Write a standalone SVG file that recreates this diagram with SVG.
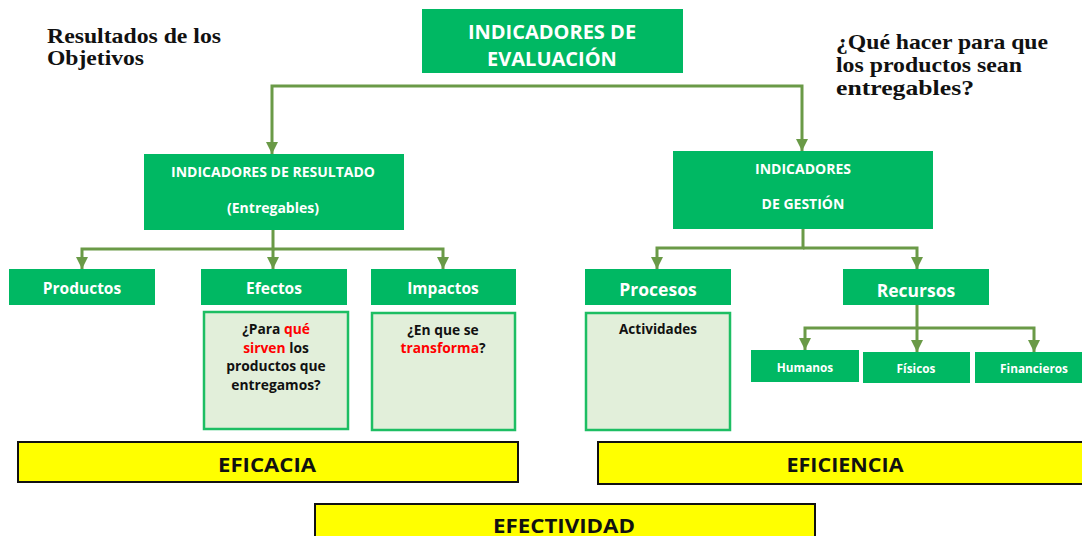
<svg xmlns="http://www.w3.org/2000/svg" width="1082" height="536" viewBox="0 0 1082 536">
<style>
.g{fill:#00B863;}
.lt{fill:#E2EFDA;stroke:#1DBE63;stroke-width:2.5;}
.y{fill:#FFFF00;stroke:#111;stroke-width:2;}
.w{fill:#fff;font-family:"Open Sans",sans-serif;font-weight:bold;text-anchor:middle;}
.b{fill:#111;font-family:"Open Sans",sans-serif;font-weight:bold;text-anchor:middle;}
.r{fill:#FF0000;}
.t{fill:#111;font-family:"Liberation Serif",serif;font-weight:bold;font-size:21px;}
.c{fill:none;stroke:#6A9A47;stroke-width:3;marker-end:url(#arr);}
</style>
<defs>
<marker id="arr" viewBox="0 0 12 12" refX="12" refY="6" markerWidth="12" markerHeight="12" markerUnits="userSpaceOnUse" orient="auto">
<path d="M0,0 L12,6 L0,12 z" fill="#6A9A47"/>
</marker>
</defs>
<g id="titles">
<text class="t" x="47" y="43" textLength="174" lengthAdjust="spacingAndGlyphs">Resultados de los</text>
<text class="t" x="47" y="65" textLength="97" lengthAdjust="spacingAndGlyphs">Objetivos</text>
<text class="t" x="836" y="49" textLength="212" lengthAdjust="spacingAndGlyphs">¿Qué hacer para que</text>
<text class="t" x="836" y="72" textLength="186" lengthAdjust="spacingAndGlyphs">los productos sean</text>
<text class="t" x="836" y="95" textLength="138" lengthAdjust="spacingAndGlyphs">entregables?</text>
</g>
<g id="connectors">
<path class="c" d="M552,86 H272 V154"/>
<path class="c" d="M552,86 H802 V151"/>
<path class="c" d="M273,230 V249 H82 V269"/>
<path class="c" d="M273,249 V269"/>
<path class="c" d="M273,249 H443 V269"/>
<path class="c" d="M803,229 V248 H657 V269"/>
<path class="c" d="M803,248 H917 V269"/>
<path class="c" d="M917,305 V328 H805 V350"/>
<path class="c" d="M917,328 V352"/>
<path class="c" d="M917,328 H1034 V352"/>
</g>
<g id="evaluacion">
<rect class="g" x="422" y="9" width="261" height="64"/>
<text class="w" x="552" y="39" font-size="20">INDICADORES DE</text>
<text class="w" x="552" y="66" font-size="20">EVALUACIÓN</text>
</g>
<g id="resultado">
<rect class="g" x="144" y="154" width="260" height="76"/>
<text class="w" x="273" y="177" font-size="14">INDICADORES DE RESULTADO</text>
<text class="w" x="273" y="213" font-size="14">(Entregables)</text>
</g>
<g id="gestion">
<rect class="g" x="673" y="151" width="260" height="78"/>
<text class="w" x="803" y="174" font-size="14">INDICADORES</text>
<text class="w" x="803" y="209" font-size="14">DE GESTIÓN</text>
</g>
<g id="productos">
<rect class="g" x="9" y="269" width="146" height="36"/>
<text class="w" x="82" y="294" font-size="15.5">Productos</text>
</g>
<g id="efectos">
<rect class="g" x="201" y="269" width="146" height="36"/>
<text class="w" x="274" y="294" font-size="15.5">Efectos</text>
</g>
<g id="impactos">
<rect class="g" x="371" y="269" width="145" height="36"/>
<text class="w" x="443" y="294" font-size="15.5">Impactos</text>
</g>
<g id="procesos">
<rect class="g" x="585" y="269" width="146" height="36"/>
<text class="w" x="658" y="296" font-size="17.5">Procesos</text>
</g>
<g id="recursos">
<rect class="g" x="843" y="269" width="146" height="36"/>
<text class="w" x="916" y="297" font-size="17.5">Recursos</text>
</g>
<g id="efectos-detalle">
<rect class="lt" x="204" y="312" width="144" height="117"/>
<text class="b" x="276" y="334" font-size="13.8">¿Para <tspan class="r">qué</tspan></text>
<text class="b" x="276" y="353" font-size="13.8"><tspan class="r">sirven</tspan> los</text>
<text class="b" x="276" y="371" font-size="13.8">productos que</text>
<text class="b" x="276" y="390" font-size="13.8">entregamos?</text>
</g>
<g id="impactos-detalle">
<rect class="lt" x="372" y="313" width="143" height="117"/>
<text class="b" x="443" y="335" font-size="13.8">¿En que se</text>
<text class="b" x="443" y="353" font-size="13.8"><tspan class="r">transforma</tspan>?</text>
</g>
<g id="actividades">
<rect class="lt" x="586" y="313" width="144" height="117"/>
<text class="b" x="658" y="334" font-size="13.5">Actividades</text>
</g>
<g id="humanos">
<rect class="g" x="751" y="350" width="108" height="32"/>
<text class="w" x="805" y="372" font-size="11.8">Humanos</text>
</g>
<g id="fisicos">
<rect class="g" x="863" y="352" width="107" height="31"/>
<text class="w" x="916" y="373" font-size="11.8">Físicos</text>
</g>
<g id="financieros">
<rect class="g" x="975" y="352" width="107" height="31"/>
<text class="w" x="1034" y="373" font-size="11.8">Financieros</text>
</g>
<g id="eficacia">
<rect class="y" x="18" y="442" width="500" height="40"/>
<text class="b" x="267" y="472" font-size="19" textLength="98" lengthAdjust="spacingAndGlyphs">EFICACIA</text>
</g>
<g id="eficiencia">
<rect class="y" x="598" y="442" width="490" height="42"/>
<text class="b" x="845" y="472" font-size="19" textLength="117" lengthAdjust="spacingAndGlyphs">EFICIENCIA</text>
</g>
<g id="efectividad">
<rect class="y" x="315" y="504" width="500" height="40"/>
<text class="b" x="564" y="533" font-size="19" textLength="142" lengthAdjust="spacingAndGlyphs">EFECTIVIDAD</text>
</g>
</svg>
